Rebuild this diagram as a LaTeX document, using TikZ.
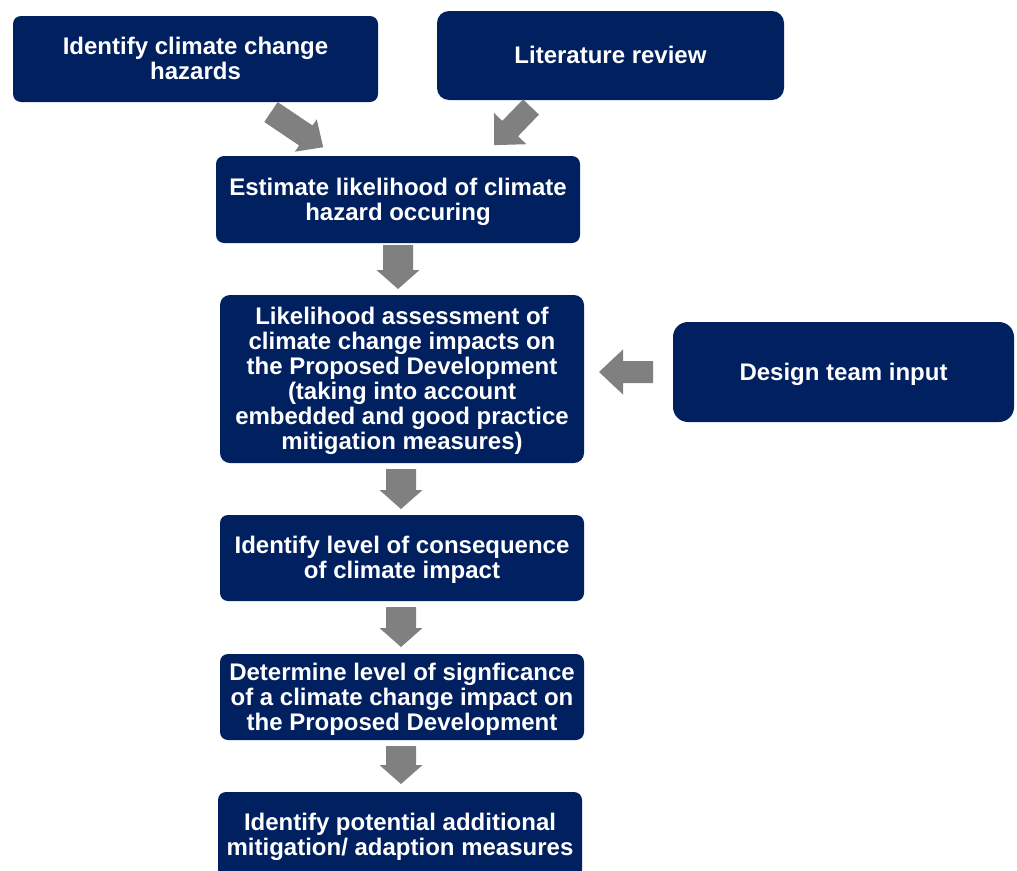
\documentclass[tikz,border=0pt]{standalone}
\usepackage{fontspec}
\setmainfont{Liberation Sans}
\definecolor{navy}{RGB}{0,32,96}
\definecolor{arrowgray}{RGB}{128,128,128}
% block arrow: x, y of tail centre, angle, length, shaft width, head width, head length
\newcommand{\blockarrow}[7]{%
  \fill[arrowgray,shift={(#1,#2)},rotate=#3]
    (0,{-#5/2}) -- ({#4-#7},{-#5/2}) -- ({#4-#7},{-#6/2}) -- (#4,0)
    -- ({#4-#7},{#6/2}) -- ({#4-#7},{#5/2}) -- (0,{#5/2}) -- cycle;}
% centred lines, set a little low inside their box
\newcommand{\boxtext}[1]{\raisebox{-3pt}[\height][\depth]{%
  \begin{tabular}{@{}c@{}}#1\end{tabular}}}
\begin{document}
\begin{tikzpicture}[x=1pt,y=-1pt,
  box/.style={fill=navy,text=white,rounded corners=8pt,
    inner sep=0pt,font=\bfseries\fontsize{24}{25}\selectfont},
  ]
\clip (0,0) rectangle (1017,870);
\fill[white] (0,0) rectangle (1017,870);

\node[box,minimum width=365pt,minimum height=86pt] (hazards) at (195.5,59)
  {\boxtext{Identify climate change\\hazards}};
\node[box,minimum width=347pt,minimum height=89pt,rounded corners=12pt] (lit) at (610.5,55.5)
  {\boxtext{Literature review}};
\node[box,minimum width=364pt,minimum height=87pt] (estimate) at (398,199.5)
  {\boxtext{Estimate likelihood of climate\\hazard occuring}};
\node[box,minimum width=364pt,minimum height=168pt,rounded corners=10pt] (assess) at (402,379)
  {\boxtext{Likelihood assessment of\\climate change impacts on\\the Proposed Development\\(taking into account\\embedded and good practice\\mitigation measures)}};
\node[box,minimum width=341pt,minimum height=100pt,rounded corners=15pt] (design) at (843.5,372)
  {\boxtext{Design team input}};
\node[box,minimum width=364pt,minimum height=86pt] (consequence) at (402,558)
  {\boxtext{Identify level of consequence\\of climate impact}};
\node[box,minimum width=364pt,minimum height=86pt] (significance) at (402,697)
  {\boxtext{Determine level of signficance\\of a climate change impact on\\the Proposed Development}};
\node[box,minimum width=364pt,minimum height=86pt] (measures) at (400,835)
  {\boxtext{Identify potential additional\\mitigation/ adaption measures}};

% grey block arrows between the boxes
\blockarrow{271}{112}{-34}{63}{24}{39}{21}
\blockarrow{531}{107}{-134}{53}{22}{45}{23}
\blockarrow{398}{245}{-90}{44}{30}{43}{19}
\blockarrow{653}{372}{180}{54}{22}{45}{24}
\blockarrow{401}{469}{-90}{40}{30}{43}{19}
\blockarrow{401}{607}{-90}{40}{30}{43}{19}
\blockarrow{401}{746}{-90}{38}{30}{43}{19}
\end{tikzpicture}
\end{document}
